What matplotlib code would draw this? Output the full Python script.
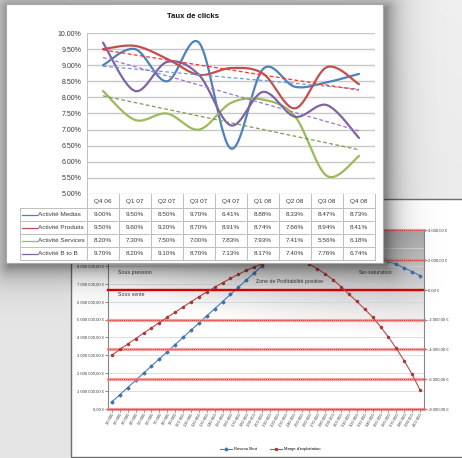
import numpy as np
import matplotlib
matplotlib.use("Agg")
import matplotlib.pyplot as plt
from matplotlib.patches import Rectangle

plt.rcParams['font.family'] = ['Liberation Sans', 'DejaVu Sans']

# ---- front chart : Taux de clicks ----
quarters = ["Q4 06", "Q1 07", "Q2 07", "Q3 07", "Q4 07", "Q1 08", "Q2 08", "Q3 08", "Q4 08"]
series_names = ["Activité Medias", "Activité Produits", "Activité Services", "Activité B to B"]
medias = [9.00, 9.50, 8.50, 9.70, 6.41, 8.88, 8.33, 8.47, 8.73]
produits = [9.50, 9.60, 9.20, 8.70, 8.91, 8.74, 7.66, 8.94, 8.41]
services = [8.20, 7.30, 7.50, 7.00, 7.83, 7.93, 7.41, 5.56, 6.18]
btob = [9.70, 8.20, 9.10, 8.70, 7.13, 8.17, 7.40, 7.76, 6.74]
pct_ticks = [5.0, 5.5, 6.0, 6.5, 7.0, 7.5, 8.0, 8.5, 9.0, 9.5, 10.0]

# ---- back chart : revenu / marge ----
volumes = [10000, 20000, 30000, 40000, 50000, 60000, 70000, 80000, 90000, 100000,
           110000, 120000, 130000, 140000, 150000, 160000, 170000, 180000, 190000, 200000,
           210000, 220000, 230000, 240000, 250000, 260000, 270000, 280000, 290000, 300000,
           310000, 320000, 330000, 340000, 350000, 360000, 370000, 380000, 390000, 400000]
revenu_brut = [400000, 800000, 1200000, 1600000, 2000000, 2400000, 2800000, 3200000, 3600000, 4000000,
               4400000, 4800000, 5200000, 5600000, 6000000, 6400000, 6800000, 7200000, 7600000, 8000000,
               8400000, 8750000, 9050000, 9300000, 9500000, 9600000, 9650000, 9600000, 9500000, 9400000,
               9250000, 9100000, 8900000, 8700000, 8500000, 8250000, 8080000, 7880000, 7670000, 7450000]
marge = [-4400, -4000, -3640, -3280, -2920, -2560, -2210, -1860, -1510, -1160,
         -820, -480, -150, 160, 460, 750, 1030, 1290, 1520, 1730,
         1900, 2020, 2080, 2060, 1940, 1700, 1400, 1060, 660, 200,
         -300, -790, -1300, -1850, -2480, -3180, -3940, -4770, -5680, -6720]
rev_ticks = [0, 1000000, 2000000, 3000000, 4000000, 5000000, 6000000, 7000000, 8000000, 9000000, 10000000]
rev_labelled_max = 8000000   # higher labels sit under the front chart
marge_ticks = [-8000, -6000, -4000, -2000, 0, 2000, 4000]
zones = ["Sous pression", "Sous vente", "Zone de Profitabilité positive", "Sur-saturation"]

W, H = 462, 458
colors = ['#4f81bd', '#c0504d', '#9bbb59', '#8064a2']
trend_colors = ['#6b9bd6', '#ff3030', '#7f9a4f', '#a070d8']
txt = '#3a3a3a'


def px_rect(x0, y0, x1, y1):
    return [x0 / W, 1 - y1 / H, (x1 - x0) / W, (y1 - y0) / H]


def canvas(z):
    a = fig.add_axes([0, 0, 1, 1])
    a.set_xlim(0, W)
    a.set_ylim(H, 0)
    a.axis('off')
    a.set_zorder(z)
    return a


def smooth(xs, ys, n=30):
    # excel-like smoothed line (catmull-rom bezier)
    p = np.column_stack([xs, ys]).astype(float)
    ext = np.vstack([p[0], p, p[-1]])
    t = np.linspace(0, 1, n)[:, None]
    out = []
    for i in range(len(p) - 1):
        p0, p1, p2, p3 = ext[i], ext[i + 1], ext[i + 2], ext[i + 3]
        c1 = p1 + (p2 - p0) / 6
        c2 = p2 - (p3 - p1) / 6
        seg = (1 - t) ** 3 * p1 + 3 * (1 - t) ** 2 * t * c1 + 3 * (1 - t) * t ** 2 * c2 + t ** 3 * p2
        out.append(seg)
    out = np.vstack(out)
    return out[:, 0], out[:, 1]


def fmt_eur(v):
    return f"{v:,.2f}".replace(",", " ").replace(".", ",") + " €"


fig = plt.figure(figsize=(W / 100, H / 100), dpi=100)

# background + back panel
bc = canvas(0)
yy, xx = np.mgrid[0:H, 0:W] + 0.5
bg = 0.90 + 0.04 * (xx / W) * (1 - yy / H)
bc.imshow(np.dstack([bg, bg, bg]), extent=(0, W, H, 0), aspect='auto', zorder=0)
bc.add_patch(Rectangle((71, 199), 410, 258, facecolor='white', edgecolor='#6e6e6e', lw=1.0, zorder=1))
bc.set_xlim(0, W)
bc.set_ylim(H, 0)

# back chart
ax_b = fig.add_axes(px_rect(108, 230, 424, 409))
ax_b.set_zorder(1)
u = np.linspace(0, 1, 200)[None, :]
v = np.linspace(0, 1, 200)[:, None]
tg = np.clip(1 - np.hypot((1 - u) / 1.1, v / 0.6), 0, 1)
g = 1 - 0.34 * tg
ax_b.imshow(np.dstack([g, g, g]), extent=(0, 1, 0, 1), transform=ax_b.transAxes,
            aspect='auto', zorder=0)
xi = np.arange(len(volumes))
ax_b.set_xlim(-0.5, len(volumes) - 0.5)
ax_b.set_ylim(rev_ticks[0], rev_ticks[-1])
ax_b.set_yticks(rev_ticks)
ax_b.set_yticklabels([fmt_eur(t) if t <= rev_labelled_max else "" for t in rev_ticks])
ax_b.set_xticks(xi)
ax_b.set_xticklabels([f"{q:,}".replace(",", " ") for q in volumes], rotation=60,
                     ha='right', rotation_mode='anchor')
ax_b.grid(axis='y', color='#d3d9e3', lw=0.6)
ax_b.tick_params(axis='both', labelsize=3, colors='#555555', labelcolor=txt, length=2, width=0.5, pad=1)
ax_b.spines['top'].set_visible(False)
ax_b.spines['right'].set_visible(False)
ax_b.spines['left'].set_color('#868686')
ax_b.spines['left'].set_linewidth(0.8)
ax_b.spines['bottom'].set_color('#8b3a3a')
ax_b.spines['bottom'].set_linewidth(1.0)
l_rev, = ax_b.plot(xi, revenu_brut, color='#4a7ebb', lw=0.8, marker='D', ms=1.5,
                   mfc='#3f72b0', mec='#3f72b0', zorder=3)

ax_r = ax_b.twinx()
ax_r.set_zorder(1.1)
ax_r.set_ylim(marge_ticks[0], marge_ticks[-1])
ax_r.set_yticks(marge_ticks)
ax_r.set_yticklabels([fmt_eur(t) for t in marge_ticks])
ax_r.tick_params(axis='y', labelsize=3, colors='#555555', labelcolor=txt, length=2, width=0.5, pad=1)
for s in ['top', 'left', 'bottom']:
    ax_r.spines[s].set_visible(False)
ax_r.spines['right'].set_color('#868686')
ax_r.spines['right'].set_linewidth(0.8)
for t in marge_ticks:
    if t == 0:
        ax_r.axhline(t, color='#e00000', lw=1.7, zorder=2, clip_on=False)
    else:
        ax_r.axhline(t, color='#f48a8a', lw=2.3, alpha=0.8, zorder=2, clip_on=False)
        ax_r.axhline(t, color='#d83030', lw=0.7, ls=(0, (1, 1)), zorder=2, clip_on=False)
l_mar, = ax_r.plot(xi, marge, color='#be4b48', lw=0.8, marker='o', ms=1.5,
                   mfc='#a83a38', mec='#a83a38', zorder=3)

ax_b.text(0.032, 0.765, zones[0], transform=ax_b.transAxes, fontsize=3.8, color=txt, va='center', zorder=5)
ax_b.text(0.032, 0.642, zones[1], transform=ax_b.transAxes, fontsize=3.8, color=txt, va='center', zorder=5)
ax_r.text(0.573, 0.715, zones[2], transform=ax_b.transAxes, fontsize=3.8, color=txt, va='center',
          ha='center', zorder=5)
ax_r.text(0.848, 0.765, zones[3], transform=ax_b.transAxes, fontsize=3.8, color=txt, va='center',
          ha='center', zorder=5)

fig.legend(handles=[l_rev, l_mar], labels=["Revenu Brut", "Marge d'exploitation"],
           loc='center', bbox_to_anchor=(270 / W, 1 - 449 / H), ncol=2, fontsize=3,
           frameon=False, handlelength=3, columnspacing=3, handletextpad=0.4)

# shadow of the front panel
sc = canvas(2)
sx0, sy0, sx1, sy1 = 9, 8, 386, 266
dx = np.maximum(np.maximum(sx0 - xx, 0), xx - sx1)
dy = np.maximum(np.maximum(sy0 - yy, 0), yy - sy1)
d = np.hypot(dx, dy)
shadow = np.zeros((H, W, 4))
shadow[..., 3] = 0.42 * np.exp(-d / 13)
sc.imshow(shadow, extent=(0, W, H, 0), aspect='auto')
sc.set_xlim(0, W)
sc.set_ylim(H, 0)

# front panel with table
fc = canvas(3)
fc.add_patch(Rectangle((6, 4), 377, 259, facecolor='white', edgecolor='#a6a6a6', lw=0.8))
fc.text(193, 17, "Taux de clicks", ha='center', va='center', fontsize=5.6, fontweight='bold', color='#111111')

plot_l, plot_r, plot_t, plot_b = 87, 375, 33, 194
band = (plot_r - plot_l) / len(quarters)
rows = [194, 208, 221, 234, 247, 260]
lab_l = 20
grid_c = '#bfbfbf'
for y in rows[1:]:
    fc.plot([lab_l, plot_r], [y, y], color=grid_c, lw=0.7)
fc.plot([lab_l, lab_l], [rows[1], rows[-1]], color=grid_c, lw=0.7)
for k in range(len(quarters) + 1):
    xk = plot_l + band * k
    fc.plot([xk, xk], [rows[0], rows[-1]], color=grid_c, lw=0.7)
for k, q in enumerate(quarters):
    fc.text(plot_l + band * (k + 0.5), (rows[0] + rows[1]) / 2 + 0.5, q, ha='center', va='center',
            fontsize=4.6, color=txt)
all_series = [medias, produits, services, btob]
for r, (name, vals) in enumerate(zip(series_names, all_series)):
    yc = (rows[r + 1] + rows[r + 2]) / 2
    fc.plot([22, 37], [yc, yc], color=colors[r], lw=0.9)
    fc.text(38, yc + 0.3, name, ha='left', va='center', fontsize=4.6, color=txt)
    for k, val in enumerate(vals):
        fc.text(plot_l + band * (k + 0.5), yc + 0.3, f"{val:.2f}%", ha='center', va='center',
                fontsize=4.6, color=txt)

# front chart
ax_f = fig.add_axes(px_rect(plot_l, plot_t, plot_r, plot_b))
ax_f.set_zorder(4)
ax_f.patch.set_visible(False)
ax_f.set_xlim(0, len(quarters))
ax_f.set_ylim(pct_ticks[0], pct_ticks[-1])
ax_f.set_yticks(pct_ticks)
ax_f.set_yticklabels([f"{t:.2f}%" for t in pct_ticks])
ax_f.set_xticks([])
ax_f.tick_params(axis='y', labelsize=5, labelcolor=txt, length=0, pad=4)
ax_f.grid(axis='y', color='#c8c8c8', lw=1.0)
for s in ['top', 'bottom', 'right']:
    ax_f.spines[s].set_visible(False)
ax_f.spines['left'].set_color(grid_c)
ax_f.spines['left'].set_linewidth(0.7)
xq = np.arange(len(quarters)) + 0.5
for vals, c in zip(all_series, colors):
    sx, sy = smooth(xq, vals)
    ax_f.plot(sx, sy, color=c, lw=1.6, solid_capstyle='round', clip_on=False)
for vals, c in zip(all_series, trend_colors):
    coef = np.polyfit(xq, vals, 1)
    ax_f.plot([xq[0], xq[-1]], np.polyval(coef, [xq[0], xq[-1]]), color=c, lw=0.9,
              ls=(0, (3, 2)))

fig.savefig('out.png', dpi=100)
